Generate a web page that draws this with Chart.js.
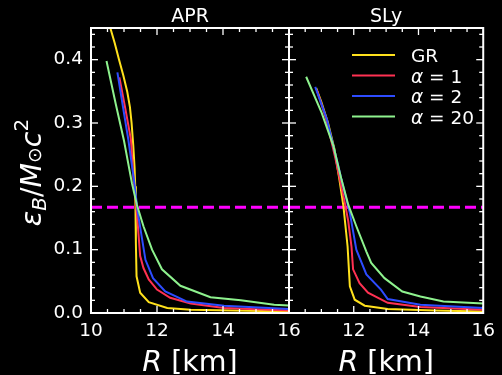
<!DOCTYPE html>
<html>
<head>
<meta charset="utf-8">
<script src="https://cdn.jsdelivr.net/npm/chart.js@4.4.1/dist/chart.umd.min.js"></script>
<style>
  html, body { margin: 0; padding: 0; background: #000; }
  #wrap { position: relative; width: 502px; height: 375px; overflow: hidden; background: #000; }
  #wrap canvas { position: absolute; left: 0; top: 0; }
</style>
</head>
<body>
<div id="wrap">
  <canvas id="apr" width="502" height="375"></canvas>
  <canvas id="sly" width="502" height="375"></canvas>
</div>
<script>
// Binding energy per unit solar mass against stellar radius,
// for the APR and SLy equations of state, GR and three coupling values.

const seriesLabels = ['GR', 'α = 1', 'α = 2', 'α = 20'];
const seriesColors = ['#ffe11c', '#ff3152', '#2d4cff', '#8ef28e'];

// APR equation of state: radius [km] and binding energy
const aprGR_R  = [10.45, 10.58, 10.72, 10.85, 10.98, 11.10, 11.18, 11.23, 11.28, 11.32, 11.34, 11.36, 11.38, 11.49, 11.75, 12.31, 13.02, 16.0];
const aprGR_E  = [0.476, 0.451, 0.426, 0.400, 0.375, 0.349, 0.325, 0.300, 0.265, 0.230, 0.200, 0.110, 0.058, 0.032, 0.017, 0.008, 0.005, 0.0025];
const aprA1_R  = [10.86, 11.05, 11.21, 11.29, 11.39, 11.49, 11.59, 11.75, 12.00, 12.40, 13.02, 14.03, 16.0];
const aprA1_E  = [0.372, 0.320, 0.274, 0.211, 0.158, 0.090, 0.071, 0.053, 0.037, 0.024, 0.015, 0.008, 0.004];
const aprA2_R  = [10.80, 10.97, 11.13, 11.30, 11.42, 11.65, 11.88, 12.25, 12.91, 14.03, 16.0];
const aprA2_E  = [0.380, 0.325, 0.274, 0.211, 0.158, 0.084, 0.055, 0.034, 0.018, 0.0115, 0.0063];
const aprA20_R = [10.47, 10.75, 11.00, 11.24, 11.39, 11.59, 11.85, 12.15, 12.71, 13.62, 14.54, 15.55, 16.0];
const aprA20_E = [0.398, 0.330, 0.272, 0.205, 0.171, 0.137, 0.100, 0.069, 0.043, 0.025, 0.020, 0.013, 0.012];

// SLy equation of state: radius [km] and binding energy
const slyGR_R  = [10.84, 11.00, 11.20, 11.40, 11.55, 11.68, 11.81, 11.88, 12.03, 12.34, 13.05, 14.50, 16.0];
const slyGR_E  = [0.355, 0.333, 0.301, 0.260, 0.213, 0.169, 0.105, 0.042, 0.021, 0.0115, 0.0063, 0.004, 0.0025];
const slyA1_R  = [10.86, 11.15, 11.43, 11.57, 11.72, 11.83, 11.93, 11.98, 12.18, 12.44, 13.05, 14.06, 16.0];
const slyA1_E  = [0.352, 0.306, 0.245, 0.211, 0.175, 0.145, 0.105, 0.069, 0.047, 0.032, 0.016, 0.0095, 0.005];
const slyA2_R  = [10.81, 11.17, 11.47, 11.62, 11.88, 12.08, 12.39, 12.84, 13.05, 14.06, 16.0];
const slyA2_E  = [0.357, 0.306, 0.243, 0.211, 0.158, 0.100, 0.061, 0.037, 0.022, 0.013, 0.008];
const slyA20_R = [10.53, 11.01, 11.37, 11.62, 11.83, 12.08, 12.39, 12.54, 12.95, 13.50, 14.06, 14.77, 16.0];
const slyA20_E = [0.373, 0.316, 0.264, 0.211, 0.171, 0.137, 0.097, 0.079, 0.055, 0.034, 0.026, 0.018, 0.015];

// Horizontal reference level
const thresholdE = 0.167;

// Axes
const xRange = [10, 16];
const yRange = [0, 0.45];
const xTicksAPR = [10, 12, 14, 16];
const xTicksSLy = [12, 14, 16];
const yTicks = [0.0, 0.1, 0.2, 0.3, 0.4];
const xMinorStep = 0.5, xMajorStep = 2;
const yMinorStep = 0.02, yMajorStep = 0.1;

const FONT = '"DejaVu Sans", "Liberation Sans", sans-serif';

function points(R, E) { return R.map((r, i) => ({ x: r, y: E[i] })); }

function buildDatasets(curves) {
  const ds = curves.map((c, i) => ({
    label: seriesLabels[i],
    data: points(c[0], c[1]),
    borderColor: seriesColors[i],
    backgroundColor: seriesColors[i],
    borderWidth: 2,
    showLine: true,
    pointRadius: 0,
    tension: 0,
    order: curves.length - i
  }));
  ds.push({
    label: 'threshold',
    data: xRange.map(x => ({ x, y: thresholdE })),
    borderColor: '#ff00ff',
    borderWidth: 3,
    borderDash: [11, 5],
    showLine: true,
    pointRadius: 0,
    order: 10,
    inLegend: false
  });
  return ds;
}

// Closed frame with inward major/minor ticks on all four sides
const framePlugin = {
  id: 'frame',
  afterDatasetsDraw(chart) {
    const { ctx, chartArea: a, scales: { x, y } } = chart;
    ctx.save();
    ctx.strokeStyle = '#fff';
    ctx.lineWidth = 1.3;
    const seg = (x1, y1, x2, y2) => { ctx.beginPath(); ctx.moveTo(x1, y1); ctx.lineTo(x2, y2); ctx.stroke(); };
    const nx = Math.round((x.max - x.min) / xMinorStep);
    for (let k = 0; k <= nx; k++) {
      const v = x.min + k * xMinorStep;
      const px = x.getPixelForValue(v);
      const major = Math.abs(v / xMajorStep - Math.round(v / xMajorStep)) < 1e-6;
      const L = major ? 7 : 4;
      seg(px, a.bottom, px, a.bottom - L);
      seg(px, a.top, px, a.top + L);
    }
    const ny = Math.floor((y.max - y.min) / yMinorStep + 1e-6);
    for (let k = 0; k <= ny; k++) {
      const v = y.min + k * yMinorStep;
      const py = y.getPixelForValue(v);
      const major = Math.abs(v / yMajorStep - Math.round(v / yMajorStep)) < 1e-6;
      const L = major ? 7 : 4;
      seg(a.left, py, a.left + L, py);
      seg(a.right, py, a.right - L, py);
    }
    ctx.lineWidth = 2;
    ctx.strokeRect(a.left, a.top, a.right - a.left, a.bottom - a.top);
    ctx.restore();
  }
};

// Panel title, axis titles and the line legend
const textPlugin = {
  id: 'panelText',
  afterDraw(chart, args, opts) {
    const { ctx, chartArea: a } = chart;
    const cx = (a.left + a.right) / 2;
    ctx.save();
    ctx.fillStyle = '#fff';
    ctx.textBaseline = 'alphabetic';

    // panel title
    ctx.font = `19px ${FONT}`;
    ctx.textAlign = 'center';
    ctx.fillText(opts.title, cx, 21.5);

    // x axis title: italic R followed by unit
    ctx.textAlign = 'left';
    const big = 28.5;
    ctx.font = `oblique ${big}px ${FONT}`;
    const wR = ctx.measureText('R').width;
    ctx.font = `${big}px ${FONT}`;
    const wU = ctx.measureText(' [km]').width;
    let sx = cx - (wR + wU) / 2;
    ctx.font = `oblique ${big}px ${FONT}`;
    ctx.fillText('R', sx, 371);
    ctx.font = `${big}px ${FONT}`;
    ctx.fillText(' [km]', sx + wR, 371);

    // y axis title, rotated
    if (opts.yTitle) {
      const small = big * 0.7;
      const parts = [
        { t: 'ε', f: `oblique ${big}px ${FONT}`, dy: 0 },
        { t: 'B', f: `oblique ${small}px ${FONT}`, dy: 5 },
        { t: '/', f: `${big}px ${FONT}`, dy: 0 },
        { t: 'M', f: `oblique ${big}px ${FONT}`, dy: 0 },
        { t: '⊙', f: `${big * 0.66}px ${FONT}`, dy: 0 },
        { t: 'c', f: `oblique ${big}px ${FONT}`, dy: 0 },
        { t: '2', f: `${small}px ${FONT}`, dy: -13 }
      ];
      let total = 0;
      parts.forEach(p => { ctx.font = p.f; p.w = ctx.measureText(p.t).width; total += p.w; });
      ctx.translate(41, (a.top + a.bottom) / 2 + 2);
      ctx.rotate(-Math.PI / 2);
      let px = -total / 2;
      parts.forEach(p => { ctx.font = p.f; ctx.fillText(p.t, px, p.dy); px += p.w; });
      ctx.setTransform(1, 0, 0, 1, 0, 0);
    }

    // legend
    if (opts.legend) {
      const rows = chart.data.datasets.filter(d => d.inLegend !== false);
      rows.forEach((d, i) => {
        const ly = a.top + 27 + i * 20.5;
        ctx.strokeStyle = d.borderColor;
        ctx.lineWidth = 2;
        ctx.beginPath();
        ctx.moveTo(a.left + 63, ly);
        ctx.lineTo(a.left + 106, ly);
        ctx.stroke();
        let tx = a.left + 122;
        const base = ly + 7;
        let rest = d.label;
        if (rest.startsWith('α')) {
          ctx.font = `oblique 18.5px ${FONT}`;
          ctx.fillText('α', tx, base);
          tx += ctx.measureText('α').width;
          rest = rest.slice(1);
        }
        ctx.font = `18.5px ${FONT}`;
        ctx.fillText(rest, tx, base);
      });
    }
    ctx.restore();
  }
};

function makePanel(id, title, curves, xTicks, isLeft) {
  return new Chart(document.getElementById(id), {
    type: 'scatter',
    data: { datasets: buildDatasets(curves) },
    options: {
      responsive: false,
      animation: false,
      devicePixelRatio: 1,
      layout: {
        padding: isLeft
          ? { left: 0, right: 213, top: 28, bottom: 0 }
          : { left: 289, right: 15, top: 28, bottom: 0 }
      },
      plugins: {
        legend: { display: false },
        tooltip: { enabled: false },
        panelText: { title, yTitle: isLeft, legend: !isLeft }
      },
      scales: {
        x: {
          type: 'linear',
          min: xRange[0], max: xRange[1],
          grid: { display: false, drawTicks: false },
          border: { display: false },
          afterBuildTicks: s => { s.ticks = xTicks.map(v => ({ value: v })); },
          afterFit: s => { s.height = 62; },
          ticks: {
            color: '#fff',
            font: { family: FONT, size: 18.5 },
            padding: 7,
            maxRotation: 0,
            autoSkip: false,
            callback: v => String(v)
          }
        },
        y: {
          type: 'linear',
          min: yRange[0], max: yRange[1],
          grid: { display: false, drawTicks: false },
          border: { display: false },
          afterBuildTicks: s => { s.ticks = yTicks.map(v => ({ value: v })); },
          afterFit: s => { s.width = isLeft ? 91 : 0; },
          ticks: {
            display: isLeft,
            color: '#fff',
            font: { family: FONT, size: 18.5 },
            padding: 8,
            callback: v => Number(v).toFixed(1)
          }
        }
      }
    },
    plugins: [framePlugin, textPlugin]
  });
}

makePanel('apr', 'APR',
  [[aprGR_R, aprGR_E], [aprA1_R, aprA1_E], [aprA2_R, aprA2_E], [aprA20_R, aprA20_E]],
  xTicksAPR, true);
makePanel('sly', 'SLy',
  [[slyGR_R, slyGR_E], [slyA1_R, slyA1_E], [slyA2_R, slyA2_E], [slyA20_R, slyA20_E]],
  xTicksSLy, false);
</script>
</body>
</html>
